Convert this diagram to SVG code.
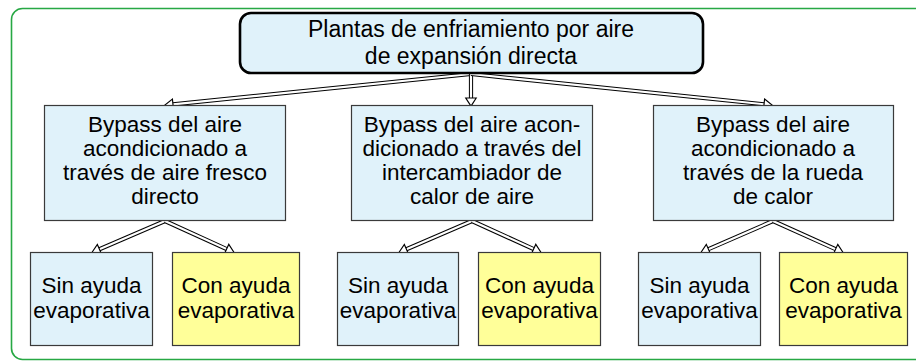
<svg xmlns="http://www.w3.org/2000/svg" width="916" height="362" viewBox="0 0 916 362">
<style>
.t{font-family:"Liberation Sans",Arial,sans-serif;font-size:22.5px;fill:#000;text-anchor:middle}
.tt{font-size:23px}
.b{fill:#E0F2FA;stroke:#3a3a3a;stroke-width:1.2}
.y{fill:#FFFF99;stroke:#3a3a3a;stroke-width:1.2}
.ab{fill:none;stroke:#000;stroke-width:4.2}
.aw{fill:none;stroke:#fff;stroke-width:2.2}
</style>
<defs>
<marker id="h" markerUnits="userSpaceOnUse" markerWidth="14" markerHeight="14" viewBox="-2 -6 12 12" refX="0" refY="0" orient="auto" overflow="visible">
<path d="M0,-4.5 L7,0 L0,4.5 Z" fill="#fff" stroke="#000" stroke-width="1"/>
</marker>
</defs>
<rect x="11.5" y="8.5" width="930" height="351" rx="11" fill="none" stroke="#27A844" stroke-width="1.6"/>
<g id="connectors">
<path class="ab" d="M471,74 L172.96,104.29"/><path class="aw" d="M471,74 L172.96,104.29" marker-end="url(#h)"/>
<path class="ab" d="M471,74 L471,98"/><path class="aw" d="M471,74 L471,98" marker-end="url(#h)"/>
<path class="ab" d="M471,74 L764.04,104.28"/><path class="aw" d="M471,74 L764.04,104.28" marker-end="url(#h)"/>
<path class="ab" d="M165,221 L99.43,249.23"/><path class="aw" d="M165,221 L99.43,249.23" marker-end="url(#h)"/>
<path class="ab" d="M165,221 L226.63,249.1"/><path class="aw" d="M165,221 L226.63,249.1" marker-end="url(#h)"/>
<path class="ab" d="M472,221 L406.43,249.23"/><path class="aw" d="M472,221 L406.43,249.23" marker-end="url(#h)"/>
<path class="ab" d="M472,221 L533.63,249.1"/><path class="aw" d="M472,221 L533.63,249.1" marker-end="url(#h)"/>
<path class="ab" d="M773,221 L708.41,249.2"/><path class="aw" d="M773,221 L708.41,249.2" marker-end="url(#h)"/>
<path class="ab" d="M773,221 L835.6,249.13"/><path class="aw" d="M773,221 L835.6,249.13" marker-end="url(#h)"/>
</g>
<g id="root">
<rect x="240" y="13" width="463" height="60" rx="11" fill="#E0F2FA" stroke="#000" stroke-width="2.6"/>
<text class="t tt" x="471" y="37">Plantas de enfriamiento por aire</text>
<text class="t tt" x="471" y="64">de expansión directa</text>
</g>
<g id="bypass-fresco">
<rect class="b" x="44.5" y="105.5" width="241" height="115"/>
<text class="t" x="165" y="132">Bypass del aire</text>
<text class="t" x="165" y="156">acondicionado a</text>
<text class="t" x="165" y="180">través de aire fresco</text>
<text class="t" x="165" y="204">directo</text>
</g>
<g id="bypass-intercambiador">
<rect class="b" x="351.5" y="105.5" width="241" height="115"/>
<text class="t" x="472" y="132">Bypass del aire acon-</text>
<text class="t" x="472" y="156">dicionado a través del</text>
<text class="t" x="472" y="180">intercambiador de</text>
<text class="t" x="472" y="204">calor de aire</text>
</g>
<g id="bypass-rueda">
<rect class="b" x="653.5" y="105.5" width="240" height="115"/>
<text class="t" x="773" y="132">Bypass del aire</text>
<text class="t" x="773" y="156">acondicionado a</text>
<text class="t" x="773" y="180">través de la rueda</text>
<text class="t" x="773" y="204">de calor</text>
</g>
<g id="sin-1">
<rect class="b" x="30.5" y="252.5" width="122" height="93"/>
<text class="t" x="91.5" y="293">Sin ayuda</text>
<text class="t" x="91.5" y="318">evaporativa</text>
</g>
<g id="con-1">
<rect class="y" x="172.5" y="252.5" width="127" height="93"/>
<text class="t" x="236" y="293">Con ayuda</text>
<text class="t" x="236" y="318">evaporativa</text>
</g>
<g id="sin-2">
<rect class="b" x="337.5" y="252.5" width="121" height="93"/>
<text class="t" x="398" y="293">Sin ayuda</text>
<text class="t" x="398" y="318">evaporativa</text>
</g>
<g id="con-2">
<rect class="y" x="478.5" y="252.5" width="122" height="93"/>
<text class="t" x="539.5" y="293">Con ayuda</text>
<text class="t" x="539.5" y="318">evaporativa</text>
</g>
<g id="sin-3">
<rect class="b" x="638.5" y="252.5" width="122" height="93"/>
<text class="t" x="699.5" y="293">Sin ayuda</text>
<text class="t" x="699.5" y="318">evaporativa</text>
</g>
<g id="con-3">
<rect class="y" x="779.5" y="252.5" width="128" height="93"/>
<text class="t" x="843.5" y="293">Con ayuda</text>
<text class="t" x="843.5" y="318">evaporativa</text>
</g>
</svg>
